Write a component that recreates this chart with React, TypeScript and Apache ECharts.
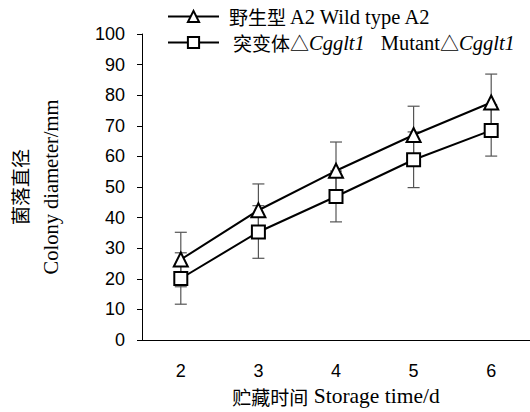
import React, { useEffect, useRef } from "react";
import * as echarts from "echarts";

const categories = ["2", "3", "4", "5", "6"];
const wildName = "野生型 A2 Wild type A2";
const mutantName = "突变体△Cgglt1  Mutant△Cgglt1";
const wildValues = [26.3, 42.4, 55.3, 67.0, 77.6];
const wildErrors = [8.9, 8.6, 9.4, 9.4, 9.3];
const mutantValues = [20.1, 35.3, 46.9, 58.9, 68.5];
const mutantErrors = [8.4, 8.6, 8.3, 9.1, 8.4];
const yTicks = { min: 0, max: 100, interval: 10 };

const SERIF = "'Liberation Serif', 'Times New Roman', serif";
const CJK = "'Noto Sans CJK SC', sans-serif";
const SANS = "'Liberation Sans', Arial, sans-serif";

export default function App() {
  const ref = useRef<HTMLDivElement>(null);
  useEffect(() => {
    if (!ref.current) return;
    const chart = echarts.init(ref.current, null, { renderer: "svg" });
    const errData = (vals: number[], errs: number[]) =>
      vals.map((v, i) => [i, v - errs[i], v + errs[i]]);
    const renderErr = (params: any, api: any) => {
      const x = api.value(0);
      const lo = api.coord([x, api.value(1)]);
      const hi = api.coord([x, api.value(2)]);
      const hw = 6;
      const style = { stroke: "#555", lineWidth: 1.2 };
      return {
        type: "group",
        children: [
          { type: "line", shape: { x1: lo[0], y1: lo[1], x2: hi[0], y2: hi[1] }, style },
          { type: "line", shape: { x1: lo[0] - hw, y1: lo[1], x2: lo[0] + hw, y2: lo[1] }, style },
          { type: "line", shape: { x1: hi[0] - hw, y1: hi[1], x2: hi[0] + hw, y2: hi[1] }, style },
        ],
      };
    };
    const rich = {
      c: { fontFamily: CJK, fontSize: 19, color: "#000", lineHeight: 24 },
      l: { fontFamily: SERIF, fontSize: 20.5, color: "#000", lineHeight: 24 },
      i: { fontFamily: SERIF, fontSize: 20.5, color: "#000", fontStyle: "italic", lineHeight: 24 },
      sp: { fontFamily: SERIF, fontSize: 20.5, lineHeight: 24, width: 5 },
      sp2: { fontFamily: SERIF, fontSize: 20.5, lineHeight: 24, width: 9 },
      gap: { fontFamily: SERIF, fontSize: 20.5, lineHeight: 24, width: 16 },
    };
    chart.setOption({
      animation: false,
      grid: { left: 142, top: 34, width: 392, bottom: 71.5, containLabel: false },
      legend: {
        orient: "vertical",
        left: 167,
        top: 6,
        padding: 0,
        itemWidth: 51,
        itemHeight: 14,
        itemGap: 5,
        data: [wildName, mutantName],
        formatter: (name: string) =>
          name === wildName
            ? "{sp|}{c|野生型}{l| A2 Wild type A2}"
            : "{sp2|}{c|突变体}{c|△}{i|Cgglt1}{gap|}{l|Mutant}{c|△}{i|Cgglt1}",
        textStyle: { fontFamily: SERIF, fontSize: 20.5, color: "#000", rich },
      },
      xAxis: {
        type: "category",
        data: categories,
        boundaryGap: true,
        axisLine: { lineStyle: { color: "#000", width: 1 } },
        axisTick: { inside: true, length: 5, lineStyle: { color: "#000" } },
        axisLabel: { color: "#000", fontFamily: SANS, fontSize: 18, margin: 22 },
        name: "{c|贮藏时间}{l| Storage time/d}",
        nameLocation: "middle",
        nameGap: 44,
        nameTextStyle: {
          fontFamily: SERIF,
          fontSize: 21,
          color: "#000",
          rich: {
            c: { fontFamily: CJK, fontSize: 19, color: "#000", lineHeight: 24 },
            l: { fontFamily: SERIF, fontSize: 21.5, color: "#000", lineHeight: 24 },
          },
        },
        splitLine: { show: false },
      },
      yAxis: {
        type: "value",
        min: yTicks.min,
        max: yTicks.max,
        interval: yTicks.interval,
        axisLine: { show: true, lineStyle: { color: "#000", width: 1 } },
        axisTick: { show: true, length: 5, lineStyle: { color: "#000" } },
        axisLabel: { color: "#000", fontFamily: SANS, fontSize: 18, margin: 17 },
        splitLine: { show: false },
        name: "{c|菌落直径}\n{l|Colony diameter/mm}",
        nameLocation: "middle",
        nameRotate: 90,
        nameGap: 75,
        nameTextStyle: {
          fontFamily: SERIF,
          fontSize: 20.5,
          color: "#000",
          rich: {
            c: { fontFamily: CJK, fontSize: 19, color: "#000", lineHeight: 32 },
            l: { fontFamily: SERIF, fontSize: 20.5, color: "#000", lineHeight: 32 },
          },
        },
      },
      series: [
        {
          type: "custom",
          name: "wildErr",
          renderItem: renderErr,
          data: errData(wildValues, wildErrors),
          z: 1,
          silent: true,
        },
        {
          type: "custom",
          name: "mutErr",
          renderItem: renderErr,
          data: errData(mutantValues, mutantErrors),
          z: 1,
          silent: true,
        },
        {
          type: "line",
          name: wildName,
          data: wildValues,
          symbol: "triangle",
          symbolSize: 14,
          lineStyle: { color: "#000", width: 2 },
          itemStyle: { color: "#fff", borderColor: "#000", borderWidth: 2 },
          z: 3,
        },
        {
          type: "line",
          name: mutantName,
          data: mutantValues,
          symbol: "rect",
          symbolSize: 13,
          lineStyle: { color: "#000", width: 2 },
          itemStyle: { color: "#fff", borderColor: "#000", borderWidth: 2 },
          z: 3,
        },
      ],
    });
    return () => chart.dispose();
  }, []);
  return (
    <div
      ref={ref}
      style={{ position: "absolute", left: 0, top: 0, width: 530, height: 412 }}
    />
  );
}
